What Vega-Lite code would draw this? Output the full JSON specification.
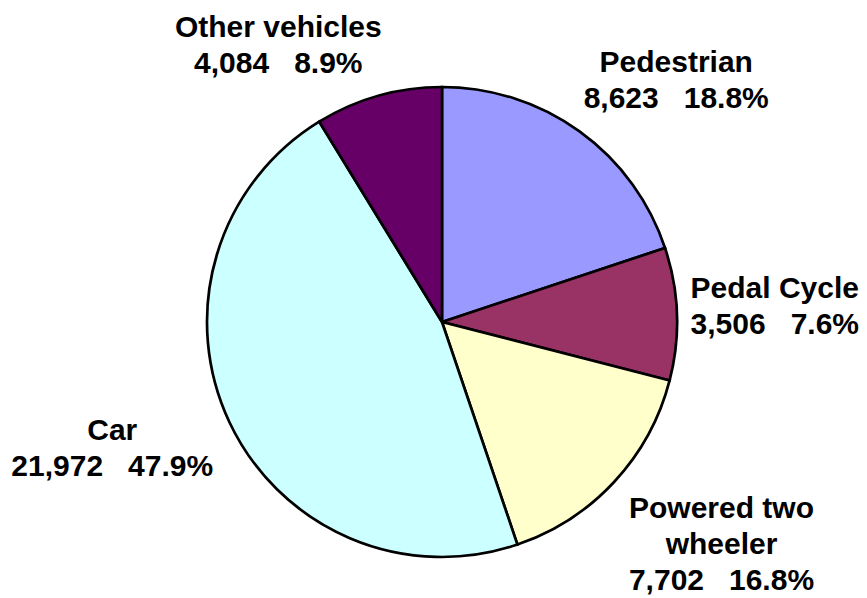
{
  "$schema": "https://vega.github.io/schema/vega-lite/v6.json",
  "width": 850,
  "height": 552,
  "autosize": {"type": "none"},
  "padding": {"left": 17, "top": 46, "right": 0, "bottom": 0},
  "background": "white",
  "config": {"view": {"stroke": null}},
  "data": {
    "values": [
      {"name": "Pedestrian", "order": 1, "count": 8623, "pct": "18.8%", "drawnShare": 19.9, "label": "Pedestrian\n8,623\u00a0\u00a0\u00a018.8%"},
      {"name": "Pedal Cycle", "order": 2, "count": 3506, "pct": "7.6%", "drawnShare": 9.1, "label": "Pedal Cycle\n3,506\u00a0\u00a0\u00a07.6%"},
      {"name": "Powered two wheeler", "order": 3, "count": 7702, "pct": "16.8%", "drawnShare": 15.8, "label": "Powered two\nwheeler\n7,702\u00a0\u00a0\u00a016.8%"},
      {"name": "Car", "order": 4, "count": 21972, "pct": "47.9%", "drawnShare": 46.45, "label": "Car\n21,972\u00a0\u00a0\u00a047.9%"},
      {"name": "Other vehicles", "order": 5, "count": 4084, "pct": "8.9%", "drawnShare": 8.75, "label": "Other vehicles\n4,084\u00a0\u00a0\u00a08.9%"}
    ]
  },
  "encoding": {
    "theta": {"field": "drawnShare", "type": "quantitative", "stack": true},
    "order": {"field": "order", "type": "quantitative"}
  },
  "layer": [
    {
      "mark": {"type": "arc", "radius": 235, "stroke": "black", "strokeWidth": 2.7},
      "encoding": {
        "color": {
          "field": "name",
          "type": "nominal",
          "scale": {
            "domain": ["Pedestrian", "Pedal Cycle", "Powered two wheeler", "Car", "Other vehicles"],
            "range": ["#9999FF", "#993366", "#FFFFCC", "#CCFFFF", "#660066"]
          },
          "legend": null
        }
      }
    },
    {
      "mark": {"type": "text", "radius": 337, "dx": 37, "dy": 14, "font": "Liberation Sans", "fontWeight": "bold", "fontSize": 30, "lineHeight": 36, "lineBreak": "\n", "align": "center", "baseline": "middle", "color": "black"},
      "encoding": {"text": {"condition": {"test": "datum.name === 'Pedestrian'", "field": "label"}, "value": ""}}
    },
    {
      "mark": {"type": "text", "radius": 333, "dx": 0, "dy": -21, "font": "Liberation Sans", "fontWeight": "bold", "fontSize": 30, "lineHeight": 36, "lineBreak": "\n", "align": "center", "baseline": "middle", "color": "black"},
      "encoding": {"text": {"condition": {"test": "datum.name === 'Pedal Cycle'", "field": "label"}, "value": ""}}
    },
    {
      "mark": {"type": "text", "radius": 358, "dx": 17, "dy": -56, "font": "Liberation Sans", "fontWeight": "bold", "fontSize": 30, "lineHeight": 36, "lineBreak": "\n", "align": "center", "baseline": "middle", "color": "black"},
      "encoding": {"text": {"condition": {"test": "datum.name === 'Powered two wheeler'", "field": "label"}, "value": ""}}
    },
    {
      "mark": {"type": "text", "radius": 352, "dx": -11, "dy": -40, "font": "Liberation Sans", "fontWeight": "bold", "fontSize": 30, "lineHeight": 36, "lineBreak": "\n", "align": "center", "baseline": "middle", "color": "black"},
      "encoding": {"text": {"condition": {"test": "datum.name === 'Car'", "field": "label"}, "value": ""}}
    },
    {
      "mark": {"type": "text", "radius": 323, "dx": -76, "dy": 17, "font": "Liberation Sans", "fontWeight": "bold", "fontSize": 30, "lineHeight": 36, "lineBreak": "\n", "align": "center", "baseline": "middle", "color": "black"},
      "encoding": {"text": {"condition": {"test": "datum.name === 'Other vehicles'", "field": "label"}, "value": ""}}
    }
  ]
}
